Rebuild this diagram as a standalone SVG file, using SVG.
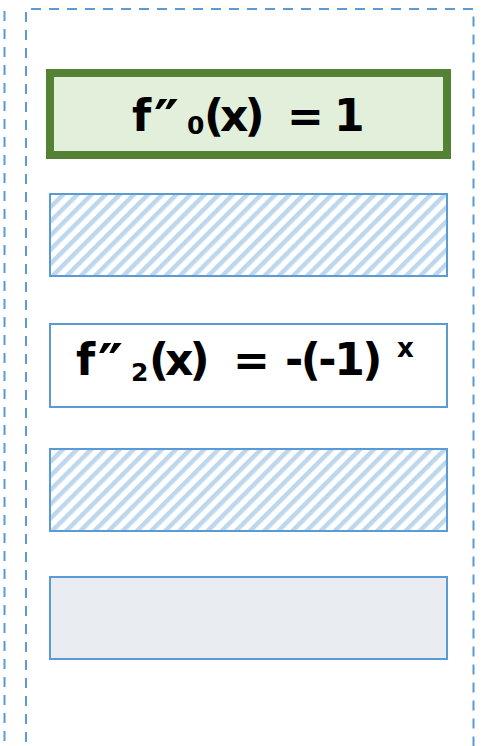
<svg xmlns="http://www.w3.org/2000/svg" width="484" height="746" viewBox="0 0 484 746">
<style>
.frame{fill:none;stroke:#5b9bd5;stroke-width:2;stroke-dasharray:10 8}
.box{stroke:#5b9bd5;stroke-width:2}
.eq{font-family:"DejaVu Sans","Liberation Sans",sans-serif;font-weight:bold;fill:#000;font-size:44px}
.pr{font-size:56px}
.sub{font-size:25px}
.sup{font-size:26px}
.tight{letter-spacing:-4px}
.tight2{letter-spacing:-2.5px}
</style>
<defs>
<pattern id="hatch" patternUnits="userSpaceOnUse" width="10" height="10" patternTransform="rotate(45)">
<rect x="0" y="0" width="10" height="10" fill="#ffffff"/>
<rect x="0" y="0" width="4.5" height="10" fill="#bdd7ee"/>
</pattern>
</defs>
<g id="frames">
<path class="frame" d="M4.5 11 V746"/>
<path class="frame" d="M26 760 V9 H473.5 V760"/>
</g>
<g id="node0">
<rect x="50" y="73" width="397" height="82" fill="#e2efda" stroke="#548235" stroke-width="8"/>
<text class="eq"><tspan x="132" y="131">f</tspan><tspan class="pr" x="154" y="139">″</tspan><tspan class="sub" x="187" y="134">0</tspan><tspan class="tight" x="204" y="131">(x)</tspan><tspan x="287" y="131">=</tspan><tspan x="334" y="131">1</tspan></text>
</g>
<g id="node1">
<rect class="box" x="50" y="194" width="397" height="82" fill="url(#hatch)"/>
</g>
<g id="node2">
<rect class="box" x="50" y="324" width="397" height="83" fill="#ffffff"/>
<text class="eq"><tspan x="76" y="375">f</tspan><tspan class="pr" x="98" y="383">″</tspan><tspan class="sub" x="131" y="381">2</tspan><tspan class="tight" x="149" y="375">(x)</tspan><tspan x="233" y="375">=</tspan><tspan class="tight2" x="285" y="375">-(-1)</tspan><tspan class="sup" x="397" y="357">x</tspan></text>
</g>
<g id="node3">
<rect class="box" x="50" y="449" width="397" height="82" fill="url(#hatch)"/>
</g>
<g id="node4">
<rect class="box" x="50" y="577" width="397" height="82" fill="#e9edf2"/>
</g>
</svg>
